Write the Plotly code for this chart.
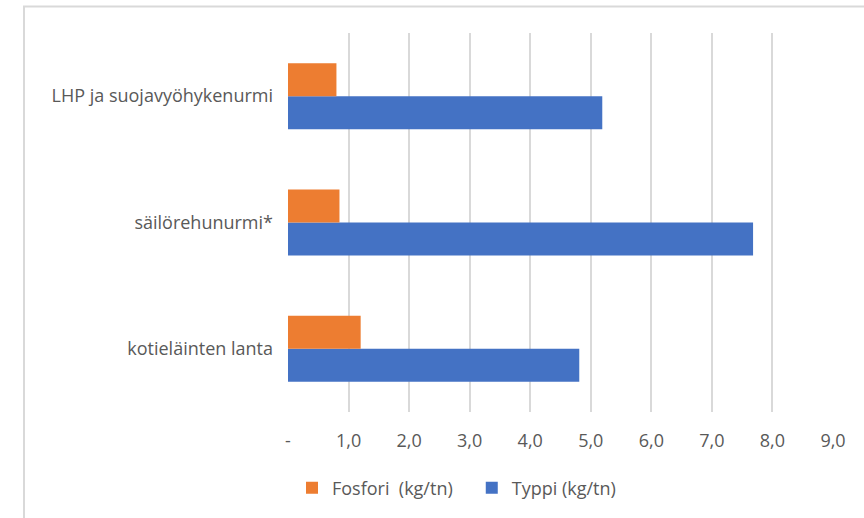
import plotly.graph_objects as go

categories = ["kotieläinten lanta", "säilörehunurmi*", "LHP ja suojavyöhykenurmi"]
fosfori = [1.2, 0.85, 0.8]
typpi = [4.81, 7.68, 5.19]
tick_vals = [0, 1, 2, 3, 4, 5, 6, 7, 8, 9]
tick_text = ["-", "1,0", "2,0", "3,0", "4,0", "5,0", "6,0", "7,0", "8,0", "9,0"]

FONT = "Open Sans"
GREY = "#595959"
FS = 18
W, H = 864, 518
L, R, T, B = 288, 31, 33, 106
pw, ph = W - L - R, H - T - B

fig = go.Figure()
fig.add_trace(go.Bar(y=categories, x=typpi, name="Typpi (kg/tn)", orientation="h",
                     marker=dict(color="#4472C4", line=dict(width=0))))
fig.add_trace(go.Bar(y=categories, x=fosfori,
                     name="Fosfori\u00a0\u00a0(kg/tn)\u00a0\u00a0\u00a0", orientation="h",
                     marker=dict(color="#ED7D31", line=dict(width=0))))

def px_x(p):
    return (p - L) / pw

def px_y(p):
    return (H - B - p) / ph

border = "#d9d9d9"
fig.add_shape(type="line", xref="paper", yref="paper",
              x0=px_x(24), x1=px_x(24), y0=px_y(6.5), y1=px_y(530),
              line=dict(color=border, width=2))
fig.add_shape(type="line", xref="paper", yref="paper",
              x0=px_x(23), x1=px_x(880), y0=px_y(6.5), y1=px_y(6.5),
              line=dict(color=border, width=2))

fig.update_layout(
    width=W, height=H,
    margin=dict(l=L, r=R, t=T, b=B),
    paper_bgcolor="white", plot_bgcolor="white",
    barmode="group", bargap=0.477, bargroupgap=0,
    font=dict(family=FONT, size=FS, color=GREY),
    showlegend=True,
    legend=dict(orientation="h", traceorder="reversed",
                x=px_x(292), xanchor="left", y=px_y(488), yanchor="middle",
                font=dict(family=FONT, size=FS, color=GREY),
                itemwidth=30, bgcolor="rgba(0,0,0,0)"),
    xaxis=dict(range=[0, 9], tickvals=tick_vals, ticktext=tick_text,
               showgrid=True, gridcolor="#d9d9d9", gridwidth=1.5,
               zeroline=False, showline=False, ticks="",
               ticklabelstandoff=16,
               tickfont=dict(family=FONT, size=FS, color=GREY), fixedrange=True),
    yaxis=dict(type="category", showgrid=False, zeroline=False, showline=False,
               ticks="", ticklabelstandoff=14,
               tickfont=dict(family=FONT, size=FS, color=GREY), fixedrange=True),
)

fig.write_html("out.html", config={"displayModeBar": False},
               post_script="document.body.style.margin='0';document.body.style.overflow='hidden';")
